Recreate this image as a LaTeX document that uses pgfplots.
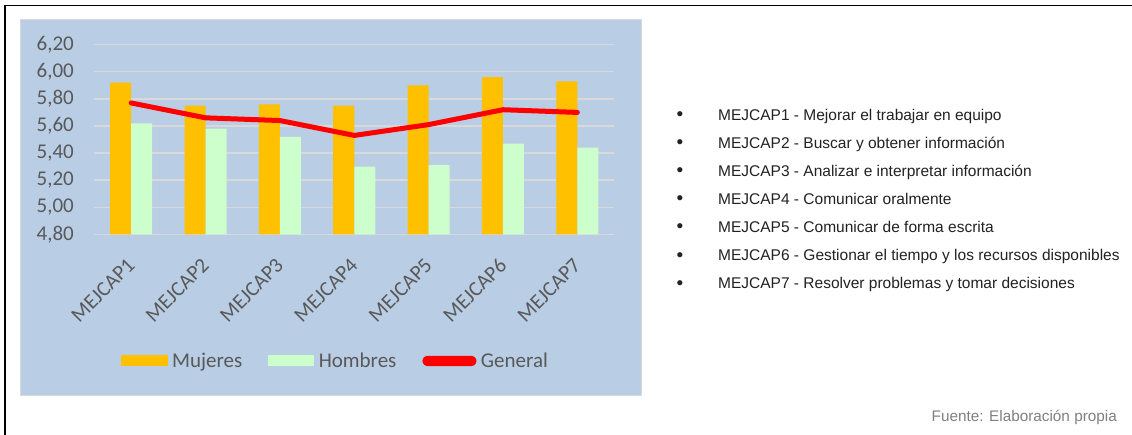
\documentclass[border=0pt]{standalone}
\usepackage{fontspec}
\setmainfont{Carlito}
\newfontfamily\arial{Liberation Sans}
\usepackage{pgfplots}
\usepackage{pgfplotstable}
\pgfplotsset{compat=1.18}
\definecolor{bgblue}{HTML}{B9CDE4}
\definecolor{mujeres}{HTML}{FFC000}
\definecolor{hombres}{HTML}{CCFFCC}
\definecolor{gridc}{HTML}{D9D9D9}
\definecolor{txt}{HTML}{595959}
\definecolor{listc}{HTML}{222222}
\definecolor{fuente}{HTML}{808080}

\pgfplotstableread{
x muj hom gen
0 5.92 5.62 5.77
1 5.75 5.58 5.66
2 5.76 5.52 5.64
3 5.75 5.30 5.53
4 5.90 5.31 5.61
5 5.96 5.47 5.72
6 5.93 5.44 5.70
}\datatable

\begin{document}
\begin{tikzpicture}
\useasboundingbox (0,0) rectangle (1132pt,-434pt);
\fill[white] (0,0) rectangle (1132pt,-434pt);
\draw[line width=1.6pt] (5pt,-440pt) -- (5pt,-5.5pt) -- (1140pt,-5.5pt);
\filldraw[fill=bgblue, draw=gridc, line width=0.8pt] (20.5pt,-19.5pt) rectangle (641pt,-395.5pt);
\begin{axis}[
  at={(94pt,-234.3pt)}, anchor=south west,
  scale only axis, width=520.5pt, height=189.6pt,
  xmin=-0.5, xmax=6.5, ymin=4.8, ymax=6.2,
  ytick={4.8,5,5.2,5.4,5.6,5.8,6,6.2},
  xtick={0,1,2,3,4,5,6},
  xticklabels={MEJCAP1,MEJCAP2,MEJCAP3,MEJCAP4,MEJCAP5,MEJCAP6,MEJCAP7},
  axis line style={draw=none},
  major tick length=0pt,
  ymajorgrids, grid style={gridc, line width=1.4pt},
  /pgf/number format/fixed,
  /pgf/number format/fixed zerofill,
  /pgf/number format/precision=2,
  /pgf/number format/use comma,
  /pgf/number format/assume math mode=true,
  yticklabel style={font=\fontsize{21}{24}\selectfont, text=txt, inner sep=0pt, anchor=east, xshift=-20pt},
  xticklabel style={font=\fontsize{21}{24}\selectfont, text=txt, inner sep=0pt, xshift=0pt, yshift=-27.5pt, rotate=45, anchor=east},
  legend style={draw=none, fill=none, inner sep=0pt, at={(0.0507,-0.668)}, anchor=west,
    font=\fontsize{21}{24}\selectfont, text=txt,
    nodes={inner sep=0pt},
    /tikz/every odd column/.append style={column sep=4.5pt},
    /tikz/every even column/.append style={column sep=26pt}},
  legend columns=3,
]
\addplot[ybar, bar width=21pt, bar shift=-10.5pt, fill=mujeres, draw=none,
  legend image code/.code={\fill[mujeres] (0pt,-5.5pt) rectangle (47pt,5.5pt);}]
  table[x=x,y=muj]{\datatable};
\addlegendentry{Mujeres}
\addplot[ybar, bar width=21pt, bar shift=10.5pt, fill=hombres, draw=none,
  legend image code/.code={\fill[hombres] (0pt,-5.5pt) rectangle (46pt,5.5pt);}]
  table[x=x,y=hom]{\datatable};
\addlegendentry{Hombres}
\addplot[red, line width=5pt, line join=round, line cap=round, mark=none,
  legend image code/.code={\fill[red, rounded corners=2.5pt] (0pt,-2.6pt) rectangle (49pt,2.6pt);}]
  table[x=x,y=gen]{\datatable};
\addlegendentry{General}
\end{axis}

\begin{scope}[every node/.style={font=\arial\fontsize{15.5}{18}\selectfont, text=listc, inner sep=0pt}]
\node[anchor=base, font=\arial\fontsize{19}{20}\selectfont] at (680pt,-120.5pt) {•};
\node[anchor=base west] at (718pt,-120pt) {MEJCAP1 - Mejorar el trabajar en equipo};
\node[anchor=base, font=\arial\fontsize{19}{20}\selectfont] at (680pt,-148.6pt) {•};
\node[anchor=base west] at (718pt,-148.1pt) {MEJCAP2 - Buscar y obtener información};
\node[anchor=base, font=\arial\fontsize{19}{20}\selectfont] at (680pt,-176.7pt) {•};
\node[anchor=base west] at (718pt,-176.2pt) {MEJCAP3 - Analizar e interpretar información};
\node[anchor=base, font=\arial\fontsize{19}{20}\selectfont] at (680pt,-204.8pt) {•};
\node[anchor=base west] at (718pt,-204.3pt) {MEJCAP4 - Comunicar oralmente};
\node[anchor=base, font=\arial\fontsize{19}{20}\selectfont] at (680pt,-232.9pt) {•};
\node[anchor=base west] at (718pt,-232.4pt) {MEJCAP5 - Comunicar de forma escrita};
\node[anchor=base, font=\arial\fontsize{19}{20}\selectfont] at (680pt,-261pt) {•};
\node[anchor=base west] at (718pt,-260.5pt) {MEJCAP6 - Gestionar el tiempo y los recursos disponibles};
\node[anchor=base, font=\arial\fontsize{19}{20}\selectfont] at (680pt,-289.1pt) {•};
\node[anchor=base west] at (718pt,-288.6pt) {MEJCAP7 - Resolver problemas y tomar decisiones};
\end{scope}
\node[anchor=base east, font=\arial\fontsize{15.3}{18}\selectfont, text=fuente, inner sep=0pt] at (1117pt,-421.7pt) {Fuente: Elaboración propia};
\end{tikzpicture}
\end{document}
